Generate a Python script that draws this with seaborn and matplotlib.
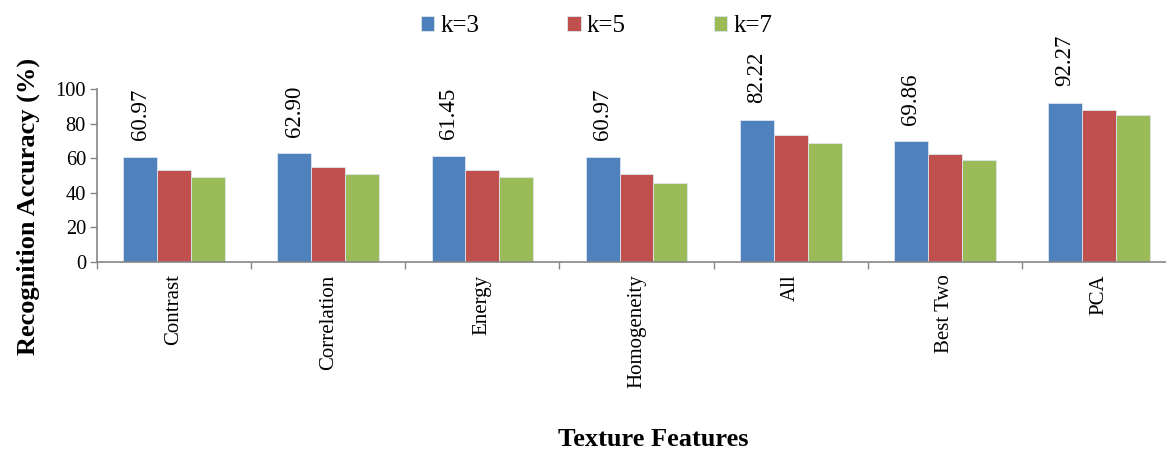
import pandas as pd
import seaborn as sns
import matplotlib.pyplot as plt
from matplotlib.ticker import FixedLocator

features = ['Contrast', 'Correlation', 'Energy', 'Homogeneity', 'All', 'Best Two', 'PCA']
k3 = [60.97, 62.90, 61.45, 60.97, 82.22, 69.86, 92.27]
k5 = [53.2, 54.9, 53.0, 50.7, 73.3, 62.6, 88.0]
k7 = [49.1, 51.0, 49.1, 45.8, 68.7, 59.0, 85.1]
k_labels = ['k=3', 'k=5', 'k=7']

df = pd.DataFrame({'Feature': features * 3,
                   'Accuracy': k3 + k5 + k7,
                   'k': [k_labels[0]] * 7 + [k_labels[1]] * 7 + [k_labels[2]] * 7})

sns.set_style('white')
plt.rcParams['font.family'] = ['Liberation Serif', 'DejaVu Serif']
plt.rcParams['text.color'] = 'black'
plt.rcParams['xtick.color'] = 'black'
plt.rcParams['ytick.color'] = 'black'

fig = plt.figure(figsize=(11.66, 4.5), dpi=100)
ax = fig.add_axes([0.0832, 0.4178, 1.0086 - 0.0832, 0.8016 - 0.4178])

pal = ['#4F81BD', '#C0504D', '#9BBB59']
sns.barplot(data=df, x='Feature', y='Accuracy', hue='k', palette=pal, saturation=1,
            width=0.66, edgecolor='#dde6f0', linewidth=0.6, ax=ax, legend=True)

# value labels above the k=3 bars
ax.bar_label(ax.containers[0], labels=['%.2f' % v for v in k3],
             rotation=90, padding=12, fontsize=16.5)

ax.set_xlim(-0.5, 6.5)
ax.set_ylim(0, 100)
ax.set_yticks([0, 20, 40, 60, 80, 100])
ax.tick_params(axis='y', labelsize=14.7, length=5, width=1, color='#868686',
               labelcolor='black', direction='out', left=True, pad=3)
ax.tick_params(axis='x', which='major', length=0, labelsize=15, pad=9,
               labelcolor='black', labelrotation=90)
ax.xaxis.set_minor_locator(FixedLocator([i - 0.5 for i in range(8)]))
ax.tick_params(axis='x', which='minor', length=5, width=1, color='#868686',
               direction='out', bottom=True)
for lbl in ax.get_xticklabels():
    lbl.set_va('top')

for s in ['top', 'right']:
    ax.spines[s].set_visible(False)
for s in ['left', 'bottom']:
    ax.spines[s].set_color('#868686')
    ax.spines[s].set_linewidth(1.2)

ax.set_xlabel('')
ax.set_ylabel('')
fig.text(0.024, 0.542, 'Recognition Accuracy (%)', rotation=90, ha='center',
         va='center', fontsize=19, fontweight='bold')
fig.text(0.56, 0.024, 'Texture Features', ha='center', va='center',
         fontsize=19, fontweight='bold')

handles, labels = ax.get_legend_handles_labels()
ax.get_legend().remove()
fig.legend(handles, labels, loc='center', bbox_to_anchor=(0.5116, 0.942), ncol=3,
           frameon=False, fontsize=18, handlelength=0.55, handleheight=0.55,
           handletextpad=0.25, columnspacing=3.5)

fig.savefig('out.png', dpi=100)
